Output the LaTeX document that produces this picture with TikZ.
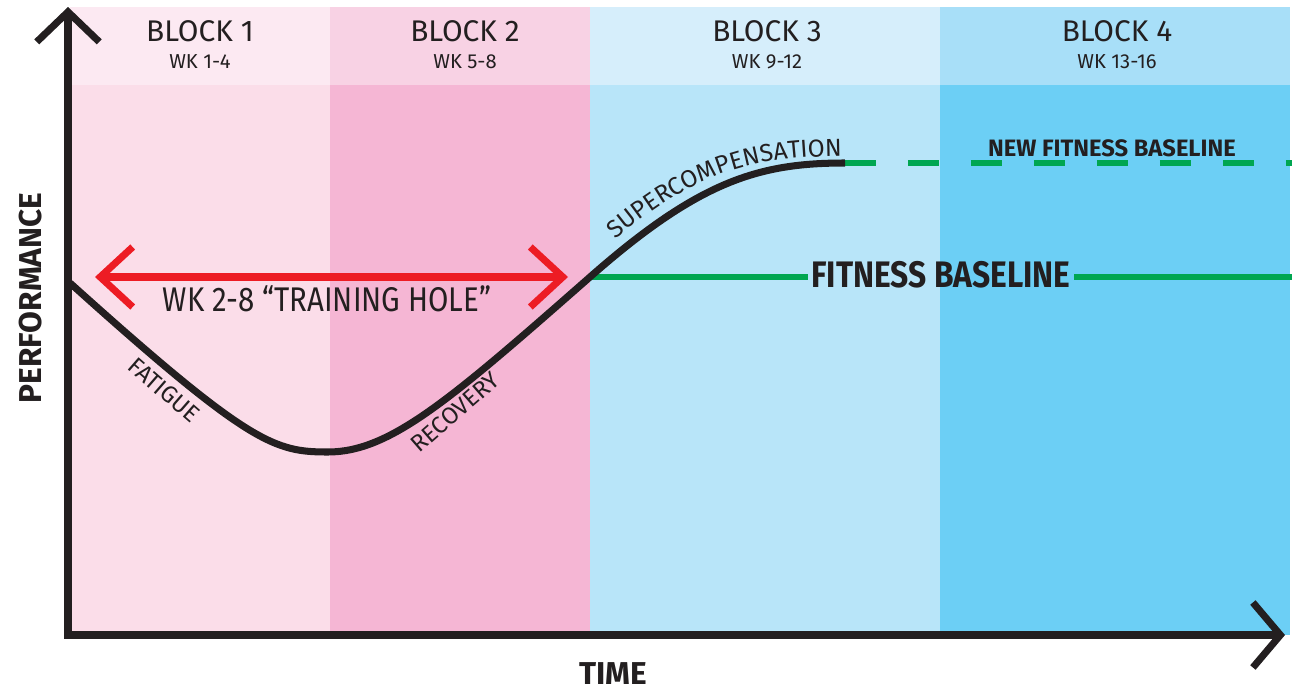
\documentclass[tikz,border=0pt]{standalone}
\usepackage{fontspec}
\setmainfont{Fira Sans}
\newfontfamily\narrowfont{Fira Sans}[FakeStretch=0.86]
\usetikzlibrary{arrows.meta, positioning, decorations.text}
\definecolor{ink}{HTML}{231F20}
\definecolor{pinkhd}{HTML}{FCE9F2}
\definecolor{pinklt}{HTML}{FBDDE9}
\definecolor{rosehd}{HTML}{F8D2E4}
\definecolor{rose}{HTML}{F5B6D4}
\definecolor{skyhd}{HTML}{D6EEFB}
\definecolor{skylt}{HTML}{B8E5F9}
\definecolor{bluehd}{HTML}{A8DFF8}
\definecolor{blue}{HTML}{6CCFF5}
\definecolor{basegreen}{HTML}{00A651}
\definecolor{holered}{HTML}{ED1C24}

\begin{document}
\begin{tikzpicture}[
  x=0.02cm, y=-0.02cm,
  colbox/.style={anchor=north west, inner sep=0pt, outer sep=0pt, minimum height=11cm},
  headbox/.style={anchor=north west, inner sep=0pt, outer sep=0pt, minimum height=1.56cm},
  blocktitle/.style={anchor=base, text=ink, font=\fontsize{17}{20}\selectfont},
  weeklabel/.style={anchor=base, text=ink, font=\fontsize{11.5}{13}\selectfont},
  phase/.style={text=ink, font=\fontsize{13.5}{15}\selectfont, inner sep=0pt},
  axislabel/.style={text=ink, font=\fontsize{18}{20}\selectfont\bfseries},
  axis/.style={ink, line width=4pt, line join=miter,
               {Straight Barb[length=6mm, width=12.5mm]}-{Straight Barb[length=5.5mm, width=13mm]}},
  curve/.style={ink, line width=4pt},
  base/.style={basegreen, line width=3.6pt},
  newbase/.style={basegreen, line width=3.6pt, dash pattern=on 6.2mm off 6.4mm},
]
\useasboundingbox (0,0) rectangle (1292,690);

% === Training blocks ===
\node[colbox, fill=pinklt, minimum width=5.2cm] (blk1) at (70,85) {};
\node[colbox, fill=rose, minimum width=5.2cm] (blk2) at (330,85) {};
\node[colbox, fill=skylt, minimum width=7cm] (blk3) at (590,85) {};
\node[colbox, fill=blue, minimum width=7cm] (blk4) at (940,85) {};

\node[headbox, fill=pinkhd, minimum width=5.2cm] (hd1) at (70,7) {};
\node[headbox, fill=rosehd, minimum width=5.2cm] (hd2) at (330,7) {};
\node[headbox, fill=skyhd, minimum width=7cm] (hd3) at (590,7) {};
\node[headbox, fill=bluehd, minimum width=7cm] (hd4) at (940,7) {};

\node[blocktitle] (t1) at (200,41) {BLOCK 1};
\node[blocktitle] (t2) at (465,41) {BLOCK 2};
\node[blocktitle] (t3) at (767,41) {BLOCK 3};
\node[blocktitle] (t4) at (1117,41) {BLOCK 4};
\node[weeklabel] (w1) at (200,68) {WK 1-4};
\node[weeklabel] (w2) at (465,68) {WK 5-8};
\node[weeklabel] (w3) at (767,68) {WK 9-12};
\node[weeklabel] (w4) at (1117,68) {WK 13-16};

% === Baselines ===
\coordinate (start) at (70,283);
\coordinate (dip) at (328,452);
\coordinate (cross) at (590,277);
\coordinate (peak) at (845,163);
\coordinate (baseend) at (1292,277);
\coordinate (newend) at (1292,163);

\node[text=ink, font=\narrowfont\fontsize{21}{24}\selectfont\bfseries, inner sep=2pt] (fitbase) at (941,275) {FITNESS BASELINE};
\draw[base] (cross) -- (fitbase.west |- cross);
\draw[base] (fitbase.east |- baseend) -- (baseend);
\draw[newbase] (peak) -- (newend);
\node[text=ink, font=\fontsize{13.5}{16}\selectfont\bfseries] (newfit) at (1112,148) {NEW FITNESS BASELINE};

% === Performance curve ===
\draw[curve] (start) .. controls (250,445) and (275,452) .. (dip)
  .. controls (390,452) and (450,400) .. (cross)
  .. controls (700,180) and (760,163) .. (peak);

\node[phase, rotate=-41] (fatigue) at (164,390) {FATIGUE};
\node[phase, rotate=41] (recovery) at (455,412) {RECOVERY};
\path[decorate, decoration={text along path, text align=center,
  text={|\color{ink}\fontsize{14}{16}\selectfont|SUPERCOMPENSATION}}]
  (608,246) .. controls (700,166) and (760,156) .. (852,156);

% === Training hole ===
\coordinate (holeL) at (95,277);
\coordinate (holeR) at (568,277);
\draw[holered, line width=4pt, {Straight Barb[length=6.5mm, width=12mm]}-{Straight Barb[length=6.5mm, width=12mm]}] (holeL) -- (holeR);
\node[text=ink, font=\narrowfont\fontsize{19.5}{22}\selectfont, anchor=base] (hole) at (327,311) {WK 2-8 “TRAINING HOLE”};

% === Axes ===
\coordinate (ytop) at (68,7);
\coordinate (origin) at (68,635);
\coordinate (xend) at (1285,635);
\draw[axis] (ytop) -- (origin) -- (xend);
\node[axislabel, rotate=90] (perf) at (31,298) {PERFORMANCE};
\node[axislabel] (time) at (613,674) {TIME};

\end{tikzpicture}
\end{document}
